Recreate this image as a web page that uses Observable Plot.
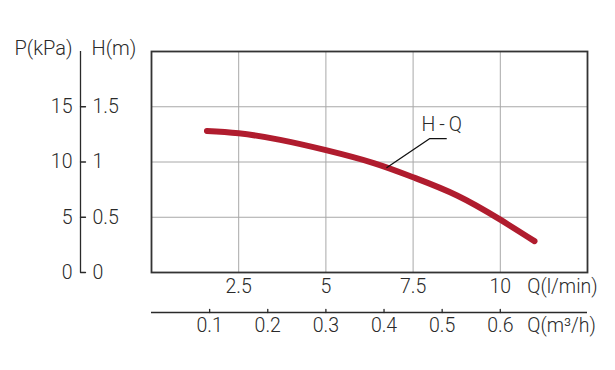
<!DOCTYPE html>
<html>
<head>
<meta charset="utf-8">
<script src="https://cdn.jsdelivr.net/npm/d3@7"></script>
<script src="https://cdn.jsdelivr.net/npm/@observablehq/plot@0.6"></script>
<style>
  html, body { margin: 0; padding: 0; background: #fff; }
  #chart svg { font-family: Roboto, "Noto Sans", sans-serif; font-weight: 300; }
</style>
</head>
<body>
<div id="chart"></div>
<script>
// Curve H-Q: flow Q (l/min) vs head H (m)
const flowLpm = [1.59, 2.5, 3.69, 5, 6.37, 7.5, 8.76, 10, 10.98];
const headM   = [1.281, 1.26, 1.20, 1.107, 0.99, 0.862, 0.697, 0.478, 0.284];

// Axis ticks
const qLpmTicks = [2.5, 5, 7.5, 10];
const qM3hTicks = [0.1, 0.2, 0.3, 0.4, 0.5, 0.6];
const hTicks = [0, 0.5, 1, 1.5];
const pTickLabels = ["0", "5", "10", "15"];
const hTickLabels = ["0", "0.5", "1", "1.5"];

// Annotation (label + leader line)
const labelText = "H\u2009-\u2009Q";
const labelPos = {q: 8.32, h: 1.335};
const leaderQ = [6.75, 7.97, 8.45];
const leaderH = [0.95, 1.211, 1.211];

const curve = flowLpm.map((q, i) => ({q, h: headM[i]}));
const leader = leaderQ.map((q, i) => ({q, h: leaderH[i]}));
const m3hToLpm = v => v * 1000 / 60;

const tickShape = {draw(context, l) { context.moveTo(0, 0); context.lineTo(0, -l); }};
const ink = "#2a2a2a";
const fs = 19.5;

const plot = Plot.plot({
  width: 615,
  height: 370,
  marginLeft: 151,
  marginRight: 28,
  marginTop: 51,
  marginBottom: 98,
  x: {domain: [0, 12.5], axis: null},
  y: {domain: [0, 2], axis: null},
  marks: [
    Plot.gridX(qLpmTicks, {stroke: "#a8a8a8", strokeOpacity: 1, strokeWidth: 1}),
    Plot.gridY([0.5, 1, 1.5], {stroke: "#a8a8a8", strokeOpacity: 1, strokeWidth: 1}),
    Plot.frame({stroke: "#333", strokeWidth: 1.8}),
    // curve
    Plot.line(curve, {x: "q", y: "h", curve: "natural", stroke: "#b01c2e", strokeWidth: 6, strokeLinecap: "round"}),
    // annotation
    Plot.line(leader, {x: "q", y: "h", stroke: "#111", strokeWidth: 1.3}),
    Plot.text([labelPos], {x: "q", y: "h", text: () => labelText, fontSize: fs, fill: ink, textAnchor: "middle"}),
    // left axis line
    Plot.ruleX([0], {y1: 0, y2: 2, dx: -71, stroke: ink, strokeWidth: 1.3}),
    Plot.vector(hTicks, {y: d => d, frameAnchor: "left", dx: -71, length: 5, rotate: 90, anchor: "start", shape: tickShape, stroke: ink, strokeWidth: 1.3}),
    Plot.text(hTicks, {y: d => d, frameAnchor: "left", dx: -79, text: (d, i) => pTickLabels[i], textAnchor: "end", fontSize: fs, fill: ink}),
    Plot.text(hTicks, {y: d => d, frameAnchor: "left", dx: -59, text: (d, i) => hTickLabels[i], textAnchor: "start", fontSize: fs, fill: ink}),
    Plot.text(["P(kPa)"], {y: 2, frameAnchor: "left", dx: -79, dy: -3, text: d => d, textAnchor: "end", fontSize: fs + 0.5, fill: ink}),
    Plot.text(["H(m)"], {y: 2, frameAnchor: "left", dx: -60, dy: -3, text: d => d, textAnchor: "start", fontSize: fs + 0.5, fill: ink}),
    // bottom axis 1: l/min
    Plot.text(qLpmTicks, {x: d => d, frameAnchor: "bottom", dy: 14.5, text: d => String(d), fontSize: fs, fill: ink, lineAnchor: "middle"}),
    Plot.text(["Q(l/min)"], {x: 10, frameAnchor: "bottom", dx: 27, dy: 14.5, text: d => d, textAnchor: "start", fontSize: fs, fill: ink, lineAnchor: "middle"}),
    // bottom axis 2: m3/h
    Plot.ruleY([0], {dy: 40, stroke: ink, strokeWidth: 1.5}),
    Plot.vector(qM3hTicks, {x: m3hToLpm, frameAnchor: "bottom", dy: 40, length: 3, rotate: 0, anchor: "start", shape: tickShape, stroke: ink, strokeWidth: 1.3}),
    Plot.text(qM3hTicks, {x: m3hToLpm, frameAnchor: "bottom", dy: 53, text: d => String(d), fontSize: fs, fill: ink, lineAnchor: "middle"}),
    Plot.text(["Q(m³/h)"], {x: 10, frameAnchor: "bottom", dx: 27, dy: 53, text: d => d, textAnchor: "start", fontSize: fs, fill: ink, lineAnchor: "middle"})
  ]
});
document.getElementById("chart").appendChild(plot);
</script>
</body>
</html>
